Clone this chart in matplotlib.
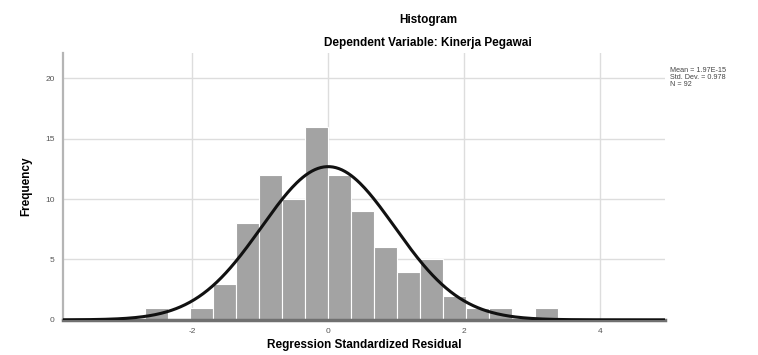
import numpy as np
import matplotlib
matplotlib.use('Agg')
import matplotlib.pyplot as plt

plt.rcParams['font.family'] = ['Liberation Sans', 'DejaVu Sans']
plt.rcParams['axes.unicode_minus'] = False

# histogram bins of standardized residuals
bin_start = -2.70
bin_width = 0.338
counts = [1, 0, 1, 3, 8, 12, 10, 16, 12, 9, 6, 4, 5, 2, 1, 1, 0, 1]
mean = 0.0
std = 0.978
n = 92
stats_lines = ['Mean = 1.97E-15', 'Std. Dev. = 0.978', 'N = 92']

edges = bin_start + bin_width * np.arange(len(counts) + 1)

fig = plt.figure(figsize=(7.58, 3.55), dpi=100)
ax = fig.add_axes([0.083, 0.099, 0.794, 0.752])

ax.bar(edges[:-1], counts, width=bin_width, align='edge',
       color='#a3a3a3', edgecolor='white', linewidth=0.8, zorder=2)

xs = np.linspace(-3.9, 4.95, 400)
ys = n * bin_width / (std * np.sqrt(2 * np.pi)) * np.exp(-0.5 * ((xs - mean) / std) ** 2)
ax.plot(xs, ys, color='#111111', linewidth=2.2, zorder=3)

ax.set_xlim(-3.9, 4.95)
ax.set_ylim(0, 22.1)
ax.set_xticks([-2, 0, 2, 4])
ax.set_yticks([0, 5, 10, 15, 20])
ax.grid(color='#dddddd', linewidth=1, zorder=0)
ax.set_axisbelow(True)

for s in ['top', 'right']:
    ax.spines[s].set_visible(False)
ax.spines['left'].set_color('#b5b5b5')
ax.spines['left'].set_linewidth(1.6)
ax.spines['bottom'].set_color('#707070')
ax.spines['bottom'].set_linewidth(2.5)
ax.tick_params(length=0, labelsize=6, labelcolor='#555555', pad=6)

ax.set_xlabel('Regression Standardized Residual', fontsize=8.5, fontweight='bold', labelpad=3)
ax.set_ylabel('Frequency', fontsize=8.5, fontweight='bold', labelpad=9)

fig.text(0.565, 0.945, 'Histogram', ha='center', va='center', fontsize=8.5, fontweight='bold')
fig.text(0.565, 0.878, 'Dependent Variable: Kinerja Pegawai', ha='center', va='center',
         fontsize=8.5, fontweight='bold')
fig.text(0.884, 0.81, '\n'.join(stats_lines), ha='left', va='top', fontsize=5.2,
         color='#444444', linespacing=1.0)

fig.savefig('out.png', dpi=100)
